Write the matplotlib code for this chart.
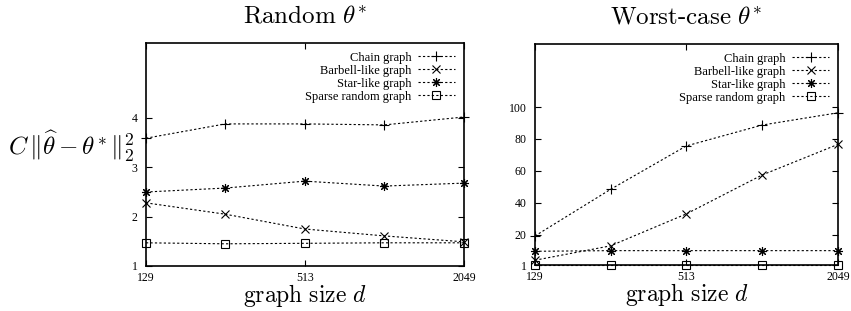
import matplotlib
matplotlib.use("Agg")
import matplotlib.pyplot as plt

plt.rcParams["mathtext.fontset"] = "cm"
plt.rcParams["font.family"] = ["Liberation Serif", "DejaVu Serif"]

sizes = [129, 257, 513, 1025, 2049]
series_names = ["Chain graph", "Barbell-like graph", "Star-like graph", "Sparse random graph"]

random_chain = [3.59, 3.88, 3.88, 3.86, 4.02]
random_barbell = [2.28, 2.05, 1.75, 1.61, 1.49]
random_star = [2.50, 2.58, 2.72, 2.62, 2.68]
random_sparse = [1.47, 1.45, 1.46, 1.47, 1.47]

worst_chain = [19.2, 48.4, 75.6, 88.7, 96.4]
worst_barbell = [4.0, 13.0, 33.0, 57.4, 76.6]
worst_star = [9.6, 10.0, 10.0, 10.0, 10.0]
worst_sparse = [1.3, 1.3, 1.3, 1.3, 1.3]

random_yticks = [1, 2, 3, 4]
worst_yticks = [1, 20, 40, 60, 80, 100]
xticks = [129, 513, 2049]

MARKERS = [
    dict(marker="+", markersize=7),
    dict(marker="x", markersize=5.5),
    dict(marker=(8, 2, 0), markersize=6.5),
    dict(marker="s", markersize=5.5, fillstyle="none"),
]


def draw_panel(ax, data, yticks, ylim, title):
    for values, name, mk in zip(data, series_names, MARKERS):
        ax.plot(sizes, values, color="black", linestyle=(0, (2, 2)),
                linewidth=0.8, markeredgewidth=0.8, label=name,
                clip_on=False, **mk)
    ax.set_xscale("log", base=2)
    ax.set_xlim(sizes[0], sizes[-1])
    ax.set_ylim(*ylim)
    ax.set_xticks(xticks)
    ax.set_xticklabels([str(t) for t in xticks])
    ax.minorticks_off()
    ax.set_yticks(yticks)
    ax.tick_params(direction="in", length=4, width=0.8, labelsize=8.5,
                   top=True, right=True)
    ax.tick_params(axis="x", pad=4)
    ax.tick_params(axis="y", pad=6)
    for sp in ax.spines.values():
        sp.set_linewidth(1.2)
    ax.set_title(r"$\mathrm{%s}\ \theta^{\!*}$" % title, fontsize=18, pad=15)
    ax.set_xlabel(r"$\mathrm{graph\ size}\ d$", fontsize=17, labelpad=-1)
    ax.legend(loc="upper right", frameon=False, markerfirst=False, fontsize=9,
              handlelength=3.0, handletextpad=0.5, labelspacing=0.08,
              borderaxespad=0.3, bbox_to_anchor=(1.0, 1.0))


fig = plt.figure(figsize=(8.51, 3.11), dpi=100)
ax1 = fig.add_axes([146 / 851, 1 - 266 / 311, (464 - 146) / 851, (266 - 43) / 311])
ax2 = fig.add_axes([535 / 851, 1 - 265 / 311, (838 - 535) / 851, (265 - 44) / 311])

draw_panel(ax1, [random_chain, random_barbell, random_star, random_sparse],
           random_yticks, (1, 5.52), "Random")
draw_panel(ax2, [worst_chain, worst_barbell, worst_star, worst_sparse],
           worst_yticks, (1, 139.5), "Worst\\text{-}case")

fig.text(8 / 851, 1 - 146 / 311, r"$C\,\|\widehat{\theta}-\theta^{\!*}\|_2^2$",
         fontsize=18, ha="left", va="center")

fig.savefig("out.png", dpi=100)
